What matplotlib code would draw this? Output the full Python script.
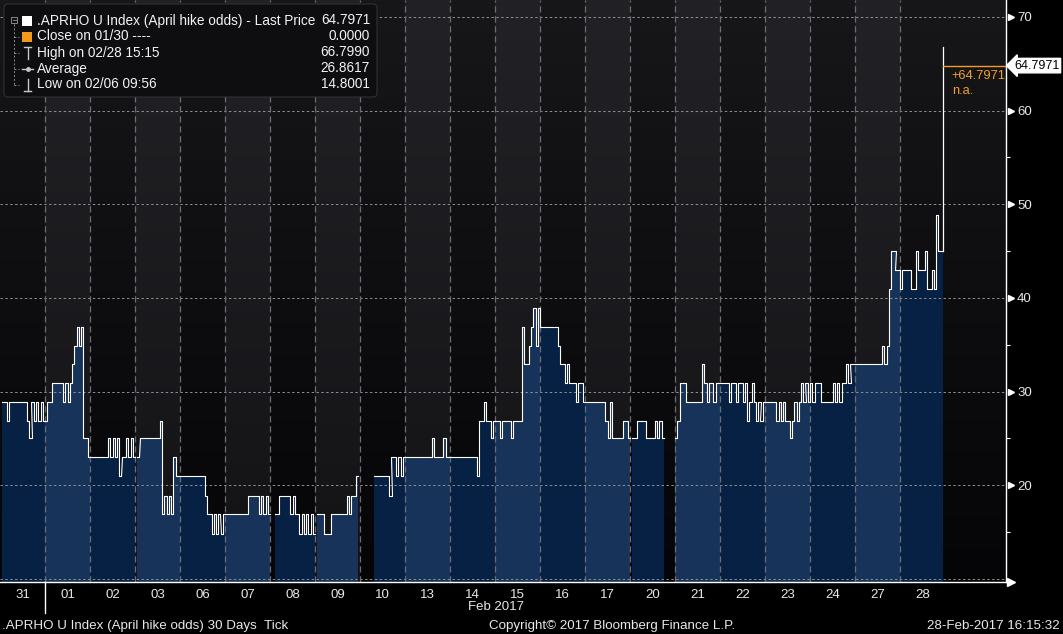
import numpy as np
import matplotlib.pyplot as plt
import matplotlib.transforms as mtransforms
from matplotlib.patches import FancyBboxPatch, Rectangle

plt.rcParams['font.family'] = ['Liberation Sans', 'DejaVu Sans']

# trading days shown on the axis
days = ['31', '01', '02', '03', '06', '07', '08', '09', '10', '13', '14',
        '15', '16', '17', '20', '21', '22', '23', '24', '27', '28']

# tick values, 20 evenly spaced readings per session (None = no ticks)
jan31 = [None, 28.9, 28.9, 26.9, 28.9, 28.9, 28.9, 28.9, 28.9, 28.9,
         28.9, 28.9, 26.9, 25.0, 28.9, 26.9, 28.9, 26.9, 28.9, 26.9]
feb01 = [26.9, 28.9, 28.9, 30.9, 30.9, 30.9, 30.9, 30.9, 28.9, 30.9,
         28.9, 30.9, 32.9, 34.9, 36.9, 34.9, 36.9, 25.0, 25.0, 23.0]
feb02 = [23.0, 23.0, 23.0, 23.0, 23.0, 23.0, 23.0, 23.0, 25.0, 23.0,
         25.0, 23.0, 25.0, 21.0, 23.0, 23.0, 25.0, 23.0, 25.0, 23.0]
feb03 = [None, 23.0, 25.0, 25.0, 25.0, 25.0, 25.0, 25.0, 25.0, 25.0,
         25.0, 26.9, 16.9, 18.9, 16.9, 18.9, 16.9, 23.0, 21.0, 21.0]
feb06 = [21.0, 21.0, 21.0, 21.0, 21.0, 21.0, 21.0, 21.0, 21.0, 21.0,
         21.0, 18.9, 16.9, 16.9, 14.8, 16.9, 14.8, 16.9, 14.8, 16.9]
feb07 = [16.9, 16.9, 16.9, 16.9, 16.9, 16.9, 16.9, 16.9, 16.9, 16.9,
         18.9, 18.9, 18.9, 18.9, 18.9, 16.9, 18.9, 16.9, 18.9, 16.9]
feb08 = [None, None, 16.9, 16.9, 18.9, 18.9, 18.9, 18.9, 18.9, 16.9,
         18.9, 16.9, 16.9, 14.8, 16.9, 14.8, 16.9, 14.8, 16.9, 14.8]
feb09 = [None, 16.9, 16.9, 16.9, 14.8, 14.8, 14.8, 16.9, 16.9, 16.9,
         16.9, 16.9, 16.9, 16.9, 18.9, 16.9, 18.9, 18.9, 21.0, None]
feb10 = [None, None, None, None, None, None, 21.0, 21.0, 21.0, 21.0,
         21.0, 21.0, 21.0, 18.9, 23.0, 23.0, 21.0, 23.0, 21.0, 23.0]
feb13 = [23.0, 23.0, 23.0, 23.0, 23.0, 23.0, 23.0, 23.0, 23.0, 23.0,
         23.0, 23.0, 25.0, 23.0, 23.0, 23.0, 23.0, 25.0, 23.0, 23.0]
feb14 = [23.0, 23.0, 23.0, 23.0, 23.0, 23.0, 23.0, 23.0, 23.0, 23.0,
         23.0, 23.0, 21.0, 26.9, 26.9, 28.9, 26.9, 26.9, 25.0, 26.9]
feb15 = [26.9, 26.9, 25.0, 26.9, 26.9, 26.9, 26.9, 25.0, 26.9, 26.9,
         26.9, 26.9, 36.9, 32.9, 32.9, 34.9, 36.9, 38.9, 34.9, 38.9]
feb16 = [36.9, 36.9, 36.9, 36.9, 36.9, 36.9, 36.9, 36.9, 34.9, 32.9,
         32.9, 30.9, 32.9, 30.9, 30.9, 30.9, 28.9, 30.9, 30.9, 28.9]
feb17 = [28.9, 28.9, 28.9, 28.9, 28.9, 28.9, 28.9, 28.9, 28.9, 26.9,
         25.0, 28.9, 25.0, 25.0, 25.0, 25.0, 25.0, 26.9, 26.9, 25.0]
feb20 = [None, 25.0, 25.0, 26.9, 26.9, 26.9, 26.9, 25.0, 25.0, 25.0,
         25.0, 26.9, 25.0, 26.9, 25.0, None, None, None, None, None]
feb21 = [25.0, 26.9, 30.9, 30.9, 30.9, 28.9, 28.9, 28.9, 28.9, 28.9,
         28.9, 28.9, 32.9, 30.9, 28.9, 30.9, 30.9, 28.9, 30.9, 30.9]
feb22 = [30.9, 30.9, 30.9, 30.9, 28.9, 30.9, 30.9, 28.9, 30.9, 30.9,
         28.9, 30.9, 26.9, 28.9, 30.9, 28.9, 26.9, 28.9, 26.9, 28.9]
feb23 = [28.9, 28.9, 28.9, 28.9, 28.9, 26.9, 28.9, 26.9, 28.9, 26.9,
         26.9, 25.0, 26.9, 28.9, 26.9, 28.9, 30.9, 28.9, 30.9, 28.9]
feb24 = [30.9, 28.9, 30.9, 30.9, 30.9, 28.9, 28.9, 28.9, 28.9, 28.9,
         30.9, 28.9, 30.9, 28.9, 30.9, 30.9, 32.9, 30.9, 32.9, 32.9]
feb27 = [32.9, 32.9, 32.9, 32.9, 32.9, 32.9, 32.9, 32.9, 32.9, 32.9,
         32.9, 32.9, 34.9, 32.9, 34.9, 40.9, 45.0, 45.0, 43.0, 43.0]
feb28 = [40.9, 43.0, 43.0, 43.0, 43.0, 40.9, 40.9, 45.0, 43.0, 43.0,
         43.0, 45.0, 40.9, 40.9, 43.0, 40.9, 48.8, 45.0, 45.0, None]

sessions = [jan31, feb01, feb02, feb03, feb06, feb07, feb08, feb09, feb10, feb13,
            feb14, feb15, feb16, feb17, feb20, feb21, feb22, feb23, feb24, feb27, feb28]

last_price = 64.7971
prev_close = 0.0000
day_high = 66.7990

legend_labels = ['.APRHO U Index (April hike odds) - Last Price', 'Close on 01/30 ----',
                 'High on 02/28 15:15', 'Average', 'Low on 02/06 09:56']
legend_values = ['64.7971', '0.0000', '66.7990', '26.8617', '14.8001']

y_ticks = [20, 30, 40, 50, 60, 70]


def step_path(k, vals, n):
    xs, ys = [], []
    for i, v in enumerate(vals):
        if v is None:
            xs.append(np.nan)
            ys.append(np.nan)
            continue
        x0 = k + i / n
        xs += [x0, x0 + 1 / n]
        ys += [v, v]
    return np.array(xs, float), np.array(ys, float)


W, H = 1063, 634
fig = plt.figure(figsize=(W / 100, H / 100), dpi=100, facecolor='black')
ax_bottom = 581.7
ax = fig.add_axes([0, 1 - ax_bottom / H, 1006 / W, ax_bottom / H])
xmax = 1006 / 45
ylo, yhi = 9.7, 71.8
ax.set_xlim(0, xmax)
ax.set_ylim(ylo, yhi)

# banded background with a soft vertical gradient
cols = np.linspace(0, xmax, 1006)
band = np.floor(cols).astype(int)
light = (band % 2 == 1) & (band < len(days))
t = np.linspace(0, 1, 300)[:, None]
dark_top, dark_bot = np.array([0x17, 0x17, 0x1a]), np.array([0x05, 0x05, 0x07])
light_top, light_bot = np.array([0x22, 0x22, 0x26]), np.array([0x13, 0x13, 0x16])
img_dark = dark_top * (1 - t) + dark_bot * t
img_light = light_top * (1 - t) + light_bot * t
img = np.where(light[None, :, None], img_light[:, None, :], img_dark[:, None, :]) / 255
ax.imshow(img, extent=(0, xmax, ylo, yhi), aspect='auto', origin='upper',
          interpolation='bilinear', zorder=0)

n = len(jan31)
line_x, line_y = [], []
for k, vals in enumerate(sessions):
    xs, ys = step_path(k, vals, n)
    fc = '#17335a' if k % 2 else '#072145'
    ax.fill_between(xs, ys, 0, color=fc, lw=0, zorder=1)
    line_x.append(xs)
    line_y.append(ys)
ax.plot(np.concatenate(line_x), np.concatenate(line_y), color='white', lw=0.8, zorder=3)

# last tick: spike to the high, last price marker
last_vals = [v for v in sessions[-1] if v is not None]
x_end = len(sessions) - 1 + len(last_vals) / n
ax.plot([x_end, x_end], [last_vals[-1], day_high], color='white', lw=0.9, zorder=3)
ax.plot([x_end, xmax], [last_price, last_price], color='#f39b22', lw=1.0, zorder=4)
ax.annotate(f'{last_price - prev_close:+.4f}', xy=(x_end, last_price), xytext=(9, -10),
            textcoords='offset pixels', ha='left', va='center', color='#f0a030', fontsize=9.3)
ax.annotate('n.a.', xy=(x_end, last_price), xytext=(9, -25),
            textcoords='offset pixels', ha='left', va='center', color='#f0a030', fontsize=9.3)

# grid
for v in range(10, 71, 10):
    ax.axhline(v, color='#8e8e94', lw=0.7, ls=(0, (2.5, 2.5)), zorder=2)
for k in range(1, len(days)):
    ax.axvline(k, color='#6c6c72', lw=0.9, ls=(0, (5, 3)), zorder=2)

for s in ['left', 'top']:
    ax.spines[s].set_visible(False)
for s in ['right', 'bottom']:
    ax.spines[s].set_color('white')
    ax.spines[s].set_linewidth(1.0)
    ax.spines[s].set_zorder(5)

ax.yaxis.tick_right()
ax.set_yticks(y_ticks)
ax.set_yticks(np.arange(15, 70, 10), minor=True)
ax.tick_params(axis='y', which='major', length=0, pad=8, labelcolor='#e8e8e8', labelsize=9.5)
ax.tick_params(axis='y', which='minor', length=3, width=0.8, color='white')
ax.set_xticks(np.arange(len(days)) + 0.5, days)
ax.tick_params(axis='x', length=0, pad=5, labelcolor='#e8e8e8', labelsize=9.5)

shift = mtransforms.ScaledTranslation(0.05, 0, fig.dpi_scale_trans)
ytrans = mtransforms.blended_transform_factory(ax.transAxes, ax.transData)
ax.plot([1.0] * len(y_ticks), y_ticks, ls='none', marker='>', ms=5, color='white',
        transform=ytrans + shift, clip_on=False, zorder=6)
ax.plot([1.0], [0.0], ls='none', marker='>', ms=6, color='white',
        transform=ax.transAxes + shift, clip_on=False, zorder=6)
ax.annotate(f'{last_price:.4f}', xy=(1.0, last_price), xycoords=ytrans,
            xytext=(8, 0), textcoords='offset pixels', ha='left', va='center',
            color='black', fontsize=9.0,
            bbox=dict(boxstyle='larrow,pad=0.1', fc='white', ec='white'))

# month separator tick
xtrans = mtransforms.blended_transform_factory(ax.transData, ax.transAxes)
ax.plot([1, 1], [0, -0.054], color='white', lw=1, transform=xtrans, clip_on=False)

# overlay in pixel coordinates for legend and footer
ov = fig.add_axes([0, 0, 1, 1], zorder=10)
ov.set_xlim(0, W)
ov.set_ylim(H, 0)
ov.axis('off')

ov.add_patch(FancyBboxPatch((4, 4), 373, 93, boxstyle='round,pad=0,rounding_size=4',
                            fc='#0e0e11', ec='#303035', lw=0.8))
row_y = [20.5 + 16 * i for i in range(len(legend_labels))]
for y, lab, val in zip(row_y, legend_labels, legend_values):
    ov.text(37, y, lab, ha='left', va='center', color='#f2f2f2', fontsize=9.8)
    ov.text(370, y, val, ha='right', va='center', color='#f2f2f2', fontsize=9.8)

ic = '#c8c8c8'
ov.add_patch(Rectangle((22, row_y[0] - 5), 10, 10, fc='white', ec='none'))
ov.add_patch(Rectangle((22, row_y[1] - 5), 10, 10, fc='#f39a1c', ec='none'))
ov.plot([24, 31], [row_y[2] - 6, row_y[2] - 6], color=ic, lw=1)
ov.plot([27.5, 27.5], [row_y[2] - 6, row_y[2] + 6], color=ic, lw=1)
ov.plot([22, 33], [row_y[3], row_y[3]], color=ic, lw=1)
ov.plot([27.5], [row_y[3]], marker='o', ms=2.5, color=ic)
ov.plot([27.5, 27.5], [row_y[4] - 6, row_y[4] + 6], color=ic, lw=1)
ov.plot([24, 31], [row_y[4] + 6, row_y[4] + 6], color=ic, lw=1)

# tree connector
ov.add_patch(Rectangle((11, row_y[0] - 3.5), 6, 6, fill=False, ec='#9a9a9a', lw=0.6))
ov.plot([12.5, 15.5], [row_y[0] - 0.5, row_y[0] - 0.5], color='#9a9a9a', lw=0.6)
ov.plot([14, 14], [row_y[0] + 3, row_y[4]], color='#8a8a8a', lw=0.7, ls=(0, (2, 2)))
for y in row_y[1:]:
    ov.plot([14, 19], [y, y], color='#8a8a8a', lw=0.7, ls=(0, (2, 2)))

ov.text(468, 607, 'Feb 2017', ha='left', va='center', color='#e8e8e8', fontsize=9.5)
ov.text(2, 626, '.APRHO U Index (April hike odds) 30 Days  Tick', ha='left', va='center',
        color='#e8e8e8', fontsize=9.6)
ov.text(489, 626, 'Copyright\u00a9 2017 Bloomberg Finance L.P.', ha='left', va='center',
        color='#e8e8e8', fontsize=9.6)
ov.text(1060, 626, '28-Feb-2017 16:15:32', ha='right', va='center',
        color='#e8e8e8', fontsize=9.6)

fig.savefig('out.png', dpi=100, facecolor='black')
